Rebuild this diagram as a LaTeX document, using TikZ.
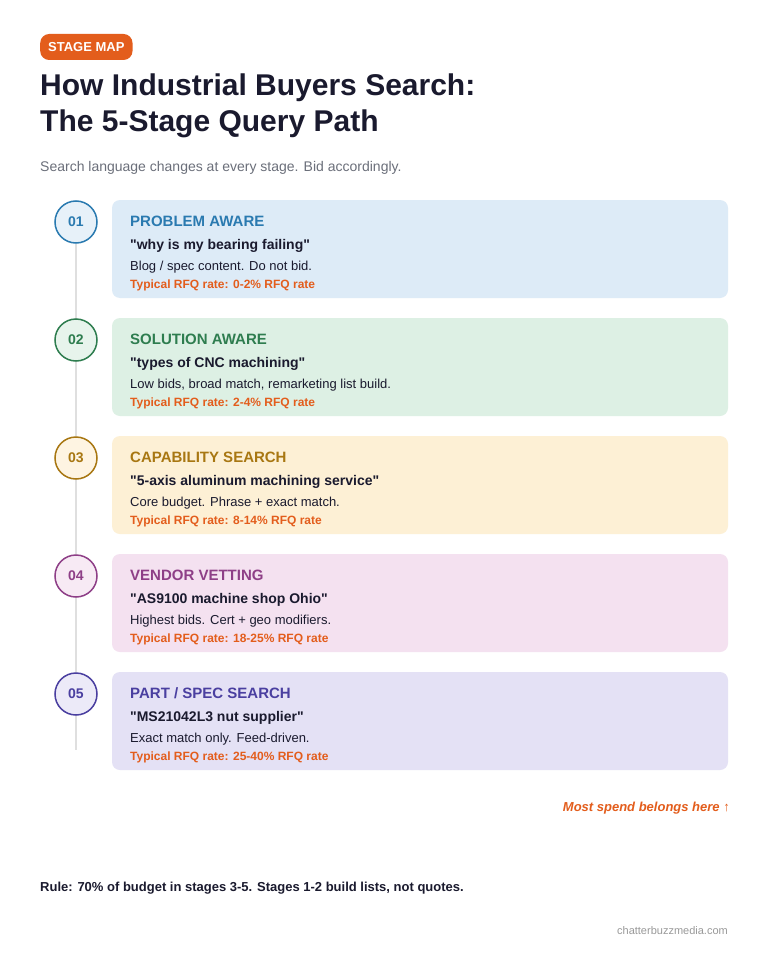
\documentclass[tikz,border=0pt]{standalone}
\usepackage{fontspec}
\setmainfont{Liberation Sans}[Ligatures=TeXOff]
\newcommand{\qq}{"}
\begin{document}
\begin{tikzpicture}[x=1pt,y=-1pt,
 card/.style={fill=#1,rounded corners=8pt,draw=none},
 num/.style={circle,minimum size=42pt,inner sep=0,line width=1.5pt,font=\bfseries\fontsize{14}{14}\selectfont},
 ttl/.style={anchor=west,font=\bfseries\fontsize{15}{15}\selectfont},
 qt/.style={anchor=west,font=\bfseries\fontsize{14}{14}\selectfont,text=ink},
 ds/.style={anchor=west,font=\fontsize{13}{13}\selectfont,text=ink},
 rt/.style={anchor=west,font=\bfseries\fontsize{12}{12}\selectfont,text=orng}]
\definecolor{ink}{HTML}{1A1A2E}
\definecolor{orng}{HTML}{E35D1C}
\definecolor{gry}{HTML}{6B6F7A}
\definecolor{bA}{HTML}{DDEBF7}\definecolor{tA}{HTML}{2A7AB0}
\definecolor{bB}{HTML}{DDF0E4}\definecolor{tB}{HTML}{2E7D4F}
\definecolor{bC}{HTML}{FDF0D5}\definecolor{tC}{HTML}{A87712}
\definecolor{bD}{HTML}{F4E1F0}\definecolor{tD}{HTML}{8E3F87}
\definecolor{bE}{HTML}{E4E1F5}\definecolor{tE}{HTML}{4A3FA0}
\newcommand{\stg}[9]{%
 \path[card=#3] (112,#2) rectangle (728,#2+98);
 \node[num,draw=#4,fill=#3!70!white,text=#4] (c#1) at (76,#2+22) {#5};
 \node[ttl,text=#4,inner sep=0] (h#1) at (130,#2+21) {#6};
 \node[qt,inner sep=0] (q#1) at (130,#2+46) {\qq#7\qq};
 \node[ds,inner sep=0] (d#1) at (130,#2+67) {#8};
 \node[rt,inner sep=0] (r#1) at (130,#2+85) {Typical RFQ rate: #9 RFQ rate};}
\path[use as bounding box,fill=white] (0,0) rectangle (768,960);
\node[fill=orng,text=white,rounded corners=9pt,font=\bfseries\fontsize{13}{13}\selectfont,inner xsep=8pt,minimum height=26pt,anchor=west] (tag) at (40,47) {STAGE MAP};
\node[anchor=north west,align=left,text=ink,font=\bfseries\fontsize{30}{36}\selectfont,inner sep=0] (title) at (40,74) {How Industrial Buyers Search:\\The 5-Stage Query Path};
\node[anchor=west,text=gry,font=\fontsize{14}{14}\selectfont,inner sep=0] (sub) at (40,168) {Search language changes at every stage. Bid accordingly.};
\coordinate (lt) at (76,244); \coordinate (lb) at (76,750);
\draw[line width=2pt,color=gray!25] (lt) -- (lb);
\stg{1}{200}{bA}{tA}{01}{PROBLEM AWARE}{why is my bearing failing}{Blog / spec content. Do not bid.}{0-2\%}
\stg{2}{318}{bB}{tB}{02}{SOLUTION AWARE}{types of CNC machining}{Low bids, broad match, remarketing list build.}{2-4\%}
\stg{3}{436}{bC}{tC}{03}{CAPABILITY SEARCH}{5-axis aluminum machining service}{Core budget. Phrase + exact match.}{8-14\%}
\stg{4}{554}{bD}{tD}{04}{VENDOR VETTING}{AS9100 machine shop Ohio}{Highest bids. Cert + geo modifiers.}{18-25\%}
\stg{5}{672}{bE}{tE}{05}{PART / SPEC SEARCH}{MS21042L3 nut supplier}{Exact match only. Feed-driven.}{25-40\%}
\node[anchor=east,inner sep=0,text=orng,font=\bfseries\itshape\fontsize{13}{13}\selectfont] (most) at (730,808) {Most spend belongs here ↑};
\node[anchor=west,inner sep=0,text=ink,font=\bfseries\fontsize{13}{13}\selectfont] (rule) at (40,888) {Rule: 70\% of budget in stages 3-5. Stages 1-2 build lists, not quotes.};
\node[anchor=east,inner sep=0,text=gray!80,font=\fontsize{11}{11}\selectfont] (src) at (728,931) {chatterbuzzmedia.com};
\end{tikzpicture}
\end{document}
